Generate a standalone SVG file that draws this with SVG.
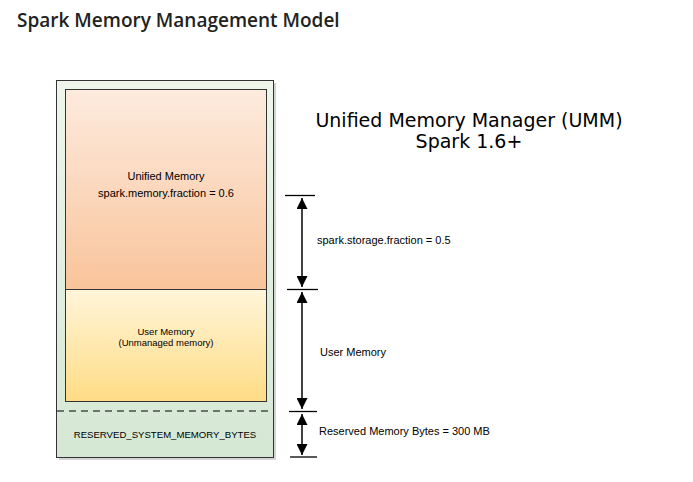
<svg xmlns="http://www.w3.org/2000/svg" width="693" height="482" viewBox="0 0 693 482">
<defs>
<linearGradient id="gGreen" x1="0" y1="0" x2="0" y2="1"><stop offset="0" stop-color="#eef6ec"/><stop offset="1" stop-color="#d5e8d4"/></linearGradient>
<linearGradient id="gOrange" x1="0" y1="0" x2="0" y2="1"><stop offset="0" stop-color="#fdebde"/><stop offset="1" stop-color="#f9c49b"/></linearGradient>
<linearGradient id="gYellow" x1="0" y1="0" x2="0" y2="1"><stop offset="0" stop-color="#fff5d9"/><stop offset="1" stop-color="#ffdc85"/></linearGradient>
<marker id="ah" viewBox="0 0 10 10" refX="10" refY="5" markerWidth="11" markerHeight="11" markerUnits="userSpaceOnUse" orient="auto-start-reverse"><path d="M0,0 L10,5 L0,10 z" fill="#000"/></marker>
<style>
.box{stroke:#333;stroke-width:1}
.lbl{font-family:"Liberation Sans",Arial,sans-serif;fill:#000;text-anchor:middle}
.side{font-family:"Liberation Sans",Arial,sans-serif;fill:#000;font-size:11px}
.tick{stroke:#000;stroke-width:1.3}
.dim{stroke:#000;stroke-width:1.5;fill:none}
</style>
</defs>
<rect width="693" height="482" fill="#fff"/>
<text x="17" y="27" font-family="'Open Sans','Noto Sans',sans-serif" font-weight="600" font-size="19" fill="#222">Spark Memory Management Model</text>
<text x="469" y="127" font-family="'DejaVu Sans',Verdana,sans-serif" font-size="19" text-anchor="middle" fill="#000">Unified Memory Manager (UMM)</text>
<text x="469" y="148" font-family="'DejaVu Sans',Verdana,sans-serif" font-size="19" text-anchor="middle" fill="#000">Spark 1.6+</text>
<g id="executor">
<rect x="59" y="83" width="217" height="377" fill="#aaa" opacity="0.5"/>
<rect x="56.5" y="80.5" width="217" height="377" fill="url(#gGreen)" class="box"/>
<line x1="57" y1="411" x2="273" y2="411" stroke="#000" stroke-width="1" stroke-dasharray="7,5"/>
<text x="165" y="438" class="lbl" font-size="9.6">RESERVED_SYSTEM_MEMORY_BYTES</text>
</g>
<g id="unified">
<rect x="65.5" y="89.5" width="201" height="200" fill="url(#gOrange)" class="box"/>
<text x="166" y="180" class="lbl" font-size="11">Unified Memory</text>
<text x="166" y="196.5" class="lbl" font-size="11">spark.memory.fraction = 0.6</text>
</g>
<g id="user">
<rect x="65.5" y="289.5" width="201" height="112" fill="url(#gYellow)" class="box"/>
<text x="166" y="335" class="lbl" font-size="9.5">User Memory</text>
<text x="166" y="346" class="lbl" font-size="9.5">(Unmanaged memory)</text>
</g>
<g id="connectors">
<line x1="285" y1="195.5" x2="315" y2="195.5" class="tick"/>
<line x1="287" y1="289.5" x2="318" y2="289.5" class="tick"/>
<line x1="289" y1="411.5" x2="317" y2="411.5" class="tick"/>
<line x1="290" y1="457" x2="317" y2="457" class="tick"/>
<line x1="302" y1="198" x2="302" y2="287" class="dim" marker-start="url(#ah)" marker-end="url(#ah)"/>
<line x1="302" y1="292" x2="302" y2="409" class="dim" marker-start="url(#ah)" marker-end="url(#ah)"/>
<line x1="302" y1="414" x2="302" y2="455" class="dim" marker-start="url(#ah)" marker-end="url(#ah)"/>
</g>
<text x="317" y="244" class="side">spark.storage.fraction = 0.5</text>
<text x="320" y="356" class="side">User Memory</text>
<text x="319" y="435" class="side">Reserved Memory Bytes = 300 MB</text>
</svg>
